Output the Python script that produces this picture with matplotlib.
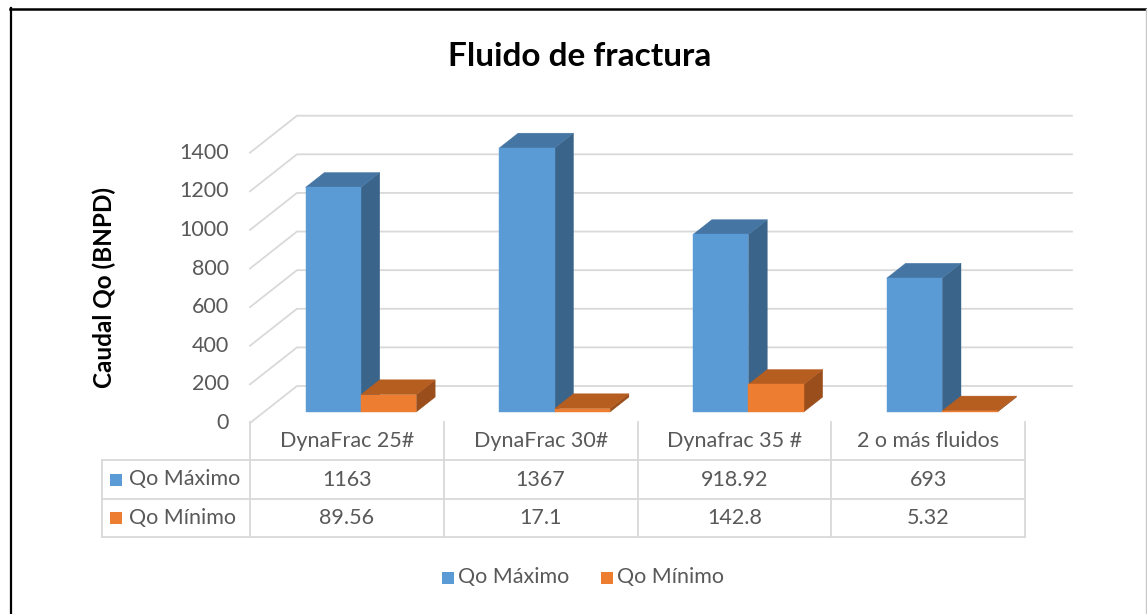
import matplotlib.pyplot as plt
from matplotlib.patches import Polygon, Rectangle
from matplotlib.lines import Line2D
import matplotlib.transforms as mtransforms

plt.rcParams['font.family'] = ['Lato', 'DejaVu Sans']

# Data
categories = ['DynaFrac 25#', 'DynaFrac 30#', 'Dynafrac 35 #', '2 o más fluidos']
series_names = ['Qo Máximo', 'Qo Mínimo']
qo_max = [1163, 1367, 918.92, 693]
qo_min = [89.56, 17.1, 142.8, 5.32]
y_ticks = [0, 200, 400, 600, 800, 1000, 1200, 1400]

# Colours (front, top, side)
blue = ('#5B9BD5', '#4575A3', '#3A6489')
orange = ('#ED7D31', '#B65D20', '#9A4E1B')
grid_c = '#D9D9D9'
text_c = '#595959'
fs = 15.5

W, H = 1147, 614
fig = plt.figure(figsize=(W / 100, H / 100), dpi=100)


def fx(px):
    return px / W


def fy(py):
    return 1 - py / H


# axes = front plane of the 3D box
ax = fig.add_axes([fx(250), fy(423), fx(1025) - fx(250), fy(152.7) - fy(423)])
ax.set_xlim(-0.5, len(categories) - 0.5)
ax.set_ylim(0, 1400)
ax.axis('off')

# depth of the box in data units
dx_full = 0.2423
dy_full = 191.6
f0, f1 = 0.3, 0.7
bar_w = 0.286

# gridlines: side wall diagonal + back wall horizontal
x_left = -0.5
x_right = len(categories) - 0.5
for v in y_ticks:
    ax.add_line(Line2D([x_left, x_left + dx_full, x_right + dx_full],
                       [v, v + dy_full, v + dy_full],
                       color=grid_c, lw=1.3, clip_on=False, zorder=1))
    ax.text(x_left - 0.11, v, str(v), ha='right', va='center',
            fontsize=fs, color=text_c, clip_on=False)


def bar3d(x0, width, height, cols):
    ox0, oy0 = f0 * dx_full, f0 * dy_full
    ox1, oy1 = f1 * dx_full, f1 * dy_full
    xa, xb = x0 + ox0, x0 + width + ox0
    front = [(xa, oy0), (xb, oy0), (xb, oy0 + height), (xa, oy0 + height)]
    dx, dy = ox1 - ox0, oy1 - oy0
    top = [(xa, oy0 + height), (xb, oy0 + height),
           (xb + dx, oy0 + height + dy), (xa + dx, oy0 + height + dy)]
    side = [(xb, oy0), (xb + dx, oy0 + dy),
            (xb + dx, oy0 + height + dy), (xb, oy0 + height)]
    for pts, c in ((side, cols[2]), (top, cols[1]), (front, cols[0])):
        ax.add_patch(Polygon(pts, closed=True, facecolor=c, edgecolor=c,
                             lw=0.3, clip_on=False, zorder=3))


for i in range(len(categories)):
    bar3d(i - bar_w, bar_w, qo_max[i], blue)
    bar3d(i, bar_w, qo_min[i], orange)

# data table
bt = mtransforms.blended_transform_factory(ax.transData, fig.transFigure)
row_y = [423, 460, 499, 537]
for k in range(len(categories) + 1):
    xb = k - 0.5
    fig.add_artist(Line2D([xb, xb], [fy(422), fy(537)], transform=bt,
                          color=grid_c, lw=1.3))
for py in row_y[1:]:
    fig.add_artist(Line2D([fx(102), fx(1025)], [fy(py), fy(py)],
                          transform=fig.transFigure, color=grid_c, lw=1.3))
fig.add_artist(Line2D([fx(102), fx(102)], [fy(460), fy(537)],
                      transform=fig.transFigure, color=grid_c, lw=1.3))

for i, c in enumerate(categories):
    fig.text(i, fy(441), c, transform=bt, ha='center', va='center',
             fontsize=fs, color=text_c)
for r, (vals, cols, name) in enumerate(zip([qo_max, qo_min], [blue, orange], series_names)):
    yc = (row_y[r + 1] + row_y[r + 2]) / 2
    for i, v in enumerate(vals):
        fig.text(i, fy(yc), f'{v:g}', transform=bt, ha='center', va='center',
                 fontsize=fs, color=text_c)
    fig.add_artist(Rectangle((fx(110), fy(yc + 6)), fx(12), 12 / H,
                             transform=fig.transFigure, facecolor=cols[0], edgecolor='none'))
    fig.text(fx(129), fy(yc), name, ha='left', va='center', fontsize=fs, color=text_c)

# legend
for x_sq, x_tx, cols, name in ((442, 458, blue, series_names[0]), (601, 617, orange, series_names[1])):
    fig.add_artist(Rectangle((fx(x_sq), fy(584)), fx(12), 12 / H,
                             transform=fig.transFigure, facecolor=cols[0], edgecolor='none'))
    fig.text(fx(x_tx), fy(577.5), name, ha='left', va='center', fontsize=fs, color=text_c)

# titles
fig.text(fx(580), fy(56), 'Fluido de fractura', ha='center', va='center',
         fontsize=24, fontweight='bold', color='black')
fig.text(fx(104), fy(288), 'Caudal Qo (BNPD)', ha='center', va='center',
         rotation=90, fontsize=17.5, fontweight='bold', color='black')

# chart frame
fig.add_artist(Line2D([fx(10.5), fx(10.5)], [fy(8), 0], transform=fig.transFigure,
                      color='black', lw=1.6))
fig.add_artist(Line2D([fx(10), fx(1146)], [fy(8.5), fy(8.5)], transform=fig.transFigure,
                      color='black', lw=1.8))
fig.add_artist(Line2D([fx(1145.5), fx(1145.5)], [fy(9), 0], transform=fig.transFigure,
                      color='#C8C8C8', lw=1))

fig.savefig('out.png', dpi=100)
